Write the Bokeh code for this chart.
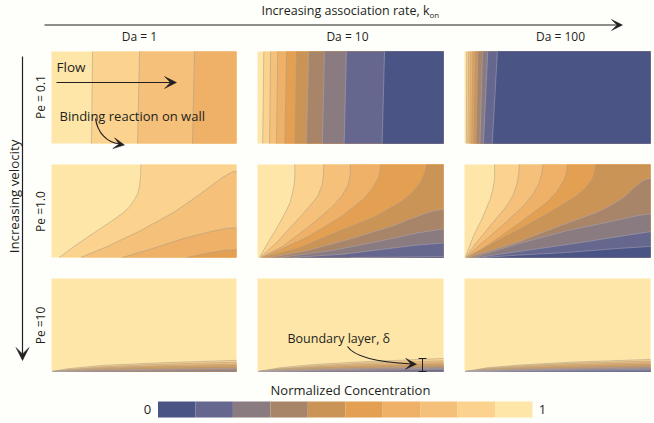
from bokeh.plotting import figure
from bokeh.models import Range1d, Arrow, VeeHead
from bokeh.core.properties import value
from bokeh.embed import file_html
from bokeh.resources import INLINE
import math

# Ten concentration levels, lowest first
LEVEL_COLORS = ["#4A5586", "#65678F", "#8A7B80", "#A88468", "#CB9457",
                "#E3A053", "#EFB068", "#F5C07A", "#FCD38E", "#FEE6A9"]

# Iso-concentration contours, highest level first: (position along wall, height above wall)
R1C1 = [[(.216, 0), (.222, 1)], [(.465, 0), (.476, 1)], [(.762, 0), (.773, 1)]]
R1C2_BOTTOM = [.028, .065, .102, .147, .201, .263, .349, .466, .670]
R1C2_TOP = [.034, .070, .109, .156, .210, .276, .360, .478, .683]
R1C3_BOTTOM = [.010, .018, .028, .038, .050, .062, .083, .102, .149]
R1C3_TOP = [.012, .022, .033, .045, .058, .072, .097, .125, .177]

R2C1 = [
    [(.041, 0), (.122, .119), (.194, .217), (.248, .289), (.302, .361), (.347, .422), (.392, .487),
     (.421, .542), (.446, .614), (.466, .686), (.477, .776), (.482, .884), (.484, 1)],
    [(.158, 0), (.302, .119), (.482, .289), (.662, .487), (.806, .686), (.914, .848), (.977, .921), (1, .928)],
    [(.383, 0), (.536, .09), (.716, .206), (.860, .278), (.950, .314), (1, .318)],
    [(.734, 0), (.842, .047), (.932, .076), (1, .083)],
]
R2C2 = [
    [(.011, 0), (.036, .09), (.068, .199), (.101, .307), (.131, .415), (.155, .505), (.176, .596),
     (.189, .704), (.198, .794), (.201, .884), (.200, 1)],
    [(.014, 0), (.104, .162), (.149, .264), (.194, .361), (.239, .458), (.284, .560), (.324, .661),
     (.347, .776), (.354, .884), (.356, 1)],
    [(.020, 0), (.140, .126), (.212, .235), (.284, .343), (.347, .451), (.410, .560), (.455, .668),
     (.487, .776), (.498, .884), (.500, 1)],
    [(.023, 0), (.068, .036), (.266, .217), (.356, .325), (.446, .433), (.509, .531), (.572, .632),
     (.617, .740), (.653, .866), (.660, .939), (.662, 1)],
    [(.032, 0), (.230, .108), (.338, .199), (.446, .289), (.536, .361), (.626, .433), (.698, .513),
     (.770, .596), (.833, .697), (.878, .812), (.901, .921), (.910, 1)],
    [(.068, 0), (.266, .072), (.500, .199), (.617, .271), (.734, .343), (.815, .408), (.896, .469),
     (.950, .502), (1, .516)],
    [(.122, 0), (.392, .072), (.644, .170), (.860, .264), (1, .307)],
    [(.194, 0), (.464, .036), (.680, .090), (.860, .134), (1, .155)],
    [(.500, 0), (.770, .004), (1, .011)],
]
R2C3 = [
    [(.004, 0), (.049, .235), (.094, .415), (.117, .523), (.139, .632), (.153, .740), (.162, .848), (.162, 1)],
    [(.005, 0), (.058, .144), (.139, .343), (.184, .451), (.229, .560), (.261, .668), (.283, .794),
     (.292, .903), (.295, 1)],
    [(.009, 0), (.076, .126), (.193, .325), (.256, .440), (.319, .560), (.364, .668), (.400, .794),
     (.416, .903), (.422, 1)],
    [(.013, 0), (.121, .126), (.211, .253), (.301, .379), (.373, .487), (.445, .596), (.495, .704),
     (.535, .830), (.550, .921), (.553, 1)],
    [(.013, 0), (.031, .018), (.229, .235), (.337, .350), (.445, .469), (.526, .567), (.607, .668),
     (.652, .751), (.688, .848), (.701, .921), (.706, 1)],
    [(.022, 0), (.049, .018), (.283, .162), (.517, .343), (.616, .415), (.715, .487), (.787, .560),
     (.859, .650), (.905, .740), (.950, .812), (.975, .841), (1, .848)],
    [(.049, 0), (.283, .144), (.553, .289), (.769, .379), (.932, .451), (1, .469)],
    [(.067, 0), (.319, .072), (.607, .155), (.859, .235), (1, .278)],
    [(.103, 0), (.283, .025), (.553, .054), (.823, .097), (1, .119)],
]
R3C1_X = [.005, .09, .27, .54, 1]
R3C1_Y = [[0, .030, .065, .090, .120], [0, .020, .050, .075, .100], [0, .015, .040, .060, .080],
          [0, .012, .030, .050, .065], [0, .008, .022, .036, .050], [0, .005, .014, .024, .035],
          [0, .002, .007, .012, .018]]
R3C2_X = [.005, .12, .30, .57, 1]
R3C2_Y = [[0, .040, .075, .105, .140], [0, .030, .060, .090, .115], [0, .025, .050, .075, .095],
          [0, .020, .040, .060, .080], [0, .015, .030, .047, .065], [0, .010, .022, .035, .050],
          [0, .006, .014, .024, .035], [0, .002, .006, .012, .020]]
R3C3_X = [.005, .12, .30, .57, 1]
R3C3_Y = [[0, .040, .070, .100, .130], [0, .032, .060, .088, .112], [0, .026, .050, .074, .095],
          [0, .020, .040, .060, .080], [0, .015, .031, .047, .065], [0, .011, .023, .036, .050],
          [0, .007, .015, .025, .036], [0, .004, .009, .015, .023], [0, .001, .003, .006, .009]]

COL_LABELS = ["Da = 1", "Da = 10", "Da = 100"]
ROW_LABELS = ["Pe = 0.1", "Pe =1.0", "Pe =10"]

COL_X = [(51, 236), (257, 443), (464, 650)]
ROW_Y = [(51, 143), (164, 257), (278, 371)]

def straight(bottom, top):
    return [[(b, 0), (t, 1)] for b, t in zip(bottom, top)]

def table(xs, ys):
    return [list(zip(xs, y)) for y in ys]

PANELS = {
    (0, 0): R1C1,
    (0, 1): straight(R1C2_BOTTOM, R1C2_TOP),
    (0, 2): straight(R1C3_BOTTOM, R1C3_TOP),
    (1, 0): R2C1, (1, 1): R2C2, (1, 2): R2C3,
    (2, 0): table(R3C1_X, R3C1_Y),
    (2, 1): table(R3C2_X, R3C2_Y),
    (2, 2): table(R3C3_X, R3C3_Y),
}

BG = "#FEFEFB"
INK = "#231F20"
FONT = value("Open Sans")

p = figure(width=654, height=423, output_backend="svg", toolbar_location=None,
           x_range=Range1d(0, 654), y_range=Range1d(423, 0),
           min_border=0, background_fill_color=BG, border_fill_color=BG,
           outline_line_color=None, x_axis_location=None, y_axis_location=None)
p.xgrid.visible = False
p.ygrid.visible = False

for (r, c), curves in PANELS.items():
    x0, x1 = COL_X[c]
    y0, y1 = ROW_Y[r]
    sx = lambda f: x0 + f * (x1 - x0)
    sy = lambda f: y1 - f * (y1 - y0)
    p.quad(left=x0, right=x1, top=y0, bottom=y1, fill_color=LEVEL_COLORS[9], line_color=None)
    for k, curve in enumerate(curves):
        xs = [sx(a) for a, _ in curve]
        ys = [sy(b) for _, b in curve]
        px, py = list(xs), list(ys)
        if curve[-1][1] == 1:
            px.append(x1); py.append(y0)
        px.append(x1); py.append(y1)
        p.patch(px, py, fill_color=LEVEL_COLORS[8 - k], line_color=None)
        edge = "#A59C88" if k < 5 else "#AAA6B4"
        p.line(xs, ys, line_color=edge, line_alpha=0.75, line_width=0.7, line_join="round")

# Colour bar
bar_x0, bar_x1, bar_top, bar_bot = 157.5, 532, 401, 417
w = (bar_x1 - bar_x0) / len(LEVEL_COLORS)
p.quad(left=[bar_x0 + i * w for i in range(10)], right=[bar_x0 + (i + 1) * w for i in range(10)],
       top=bar_top, bottom=bar_bot, fill_color=LEVEL_COLORS, line_color=None)

def label(x, y, t, size="12px", angle=0, align="center"):
    p.text(x=[x], y=[y], text=[t], text_font=FONT, text_font_size=size, angle=angle,
           text_align=align, text_baseline="middle", text_color=INK)

label(345, 10, "Increasing association rate, k", "12.5px")
label(429, 14, "on", "8px", align="left")
for x, t in zip([139, 347, 560], COL_LABELS):
    label(x, 36, t, "12px")
for y, t in zip([96.5, 211, 325], ROW_LABELS):
    label(40, y, t, "12px", angle=math.pi / 2)
label(13, 196, "Increasing velocity", "13.3px", angle=math.pi / 2)
label(56, 66, "Flow", "13.5px", align="left")
label(59, 115, "Binding reaction on wall", "13px", align="left")
label(287, 338, "Boundary layer, \u03b4", "12.5px", align="left")
label(350, 389, "Normalized Concentration", "13px")
label(147, 409, "0", "13px")
label(542, 409, "1", "13px")

def arrow(x0, y0, x1, y1, size=11, width=1.3):
    p.add_layout(Arrow(end=VeeHead(size=size, fill_color=INK, line_color=INK, line_width=0.5),
                       x_start=x0, y_start=y0, x_end=x1, y_end=y1,
                       line_color=INK, line_width=width))

arrow(44, 24.5, 622, 24.5, 11, 1.2)
arrow(22, 56, 22, 360, 13, 1.2)
arrow(56, 82, 176, 82, 12, 1.2)
arrow(118, 143.5, 124, 144.5, 11, 1)
arrow(410, 363.5, 416, 363.7, 11, 1)
p.bezier(x0=[95], y0=[118], x1=[119], y1=[143.5], cx0=[97], cy0=[132], cx1=[106], cy1=[142],
         line_color=INK, line_width=1.2)
p.bezier(x0=[347], y0=[346], x1=[411], y1=[363.5], cx0=[355], cy0=[358], cx1=[382], cy1=[362],
         line_color=INK, line_width=1.2)
# Boundary layer thickness marker
p.segment(x0=[422, 418, 418], y0=[358, 358, 371], x1=[422, 426, 426], y1=[371, 358, 371],
          line_color=INK, line_width=1)

open("out.html", "w").write(file_html(p, INLINE))
